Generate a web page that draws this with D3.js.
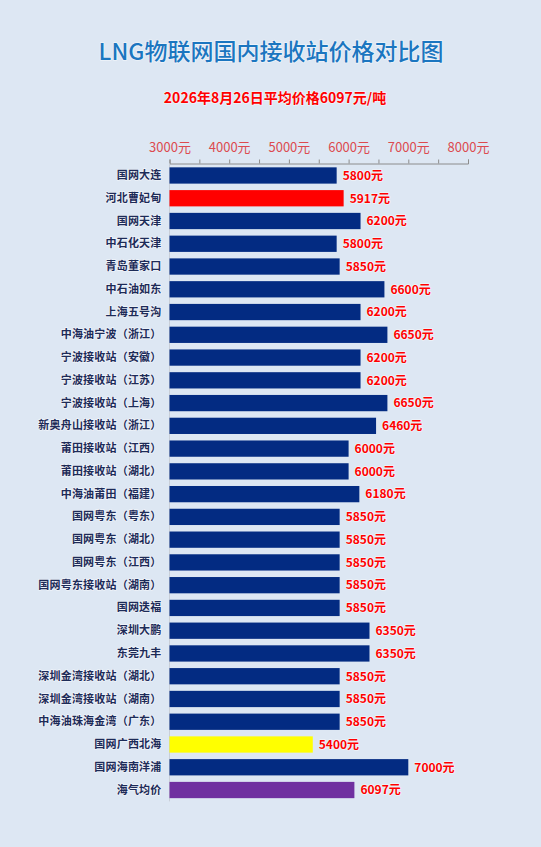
<!DOCTYPE html>
<html>
<head>
<meta charset="utf-8">
<script src="https://cdn.jsdelivr.net/npm/d3@7"></script>
<style>
    body { margin: 0; background: #dde7f3; }
    svg { display: block; }
    .halo { paint-order: stroke; stroke: #ffffff; stroke-opacity: 0.55; stroke-width: 1.6px; stroke-linejoin: round; }
</style>
</head>
<body>
<svg id="chart" width="541" height="847"></svg>
<script>
// stations, top to bottom
let stations = ["国网大连", "河北曹妃甸", "国网天津", "中石化天津", "青岛董家口", "中石油如东", "上海五号沟",
    "中海油宁波（浙江）", "宁波接收站（安徽）", "宁波接收站（江苏）", "宁波接收站（上海）", "新奥舟山接收站（浙江）",
    "莆田接收站（江西）", "莆田接收站（湖北）", "中海油莆田（福建）", "国网粤东（粤东）", "国网粤东（湖北）",
    "国网粤东（江西）", "国网粤东接收站（湖南）", "国网迭福", "深圳大鹏", "东莞九丰", "深圳金湾接收站（湖北）",
    "深圳金湾接收站（湖南）", "中海油珠海金湾（广东）", "国网广西北海", "国网海南洋浦", "海气均价"];
let prices = [5800, 5917, 6200, 5800, 5850, 6600, 6200, 6650, 6200, 6200, 6650, 6460, 6000, 6000, 6180,
    5850, 5850, 5850, 5850, 5850, 6350, 6350, 5850, 5850, 5850, 5400, 7000, 6097];
let barColors = ["#032b82", "#ff0000", "#032b82", "#032b82", "#032b82", "#032b82", "#032b82", "#032b82",
    "#032b82", "#032b82", "#032b82", "#032b82", "#032b82", "#032b82", "#032b82", "#032b82", "#032b82",
    "#032b82", "#032b82", "#032b82", "#032b82", "#032b82", "#032b82", "#032b82", "#032b82", "#ffff00",
    "#032b82", "#7030a0"];
let axisTicks = [3000, 4000, 5000, 6000, 7000, 8000];
let minorTicks = [3000, 3500, 4000, 4500, 5000, 5500, 6000, 6500, 7000, 7500, 8000];
let title = "LNG物联网国内接收站价格对比图";
let subtitle = "2026年8月26日平均价格6097元/吨";

let svg = d3.select("#chart");
let font = "'Noto Sans CJK SC', 'Noto Sans', sans-serif";

svg.append("rect").attr("width", 541).attr("height", 847).attr("fill", "#dde7f3");

// titles
svg.append("text")
    .attr("class", "halo")
    .attr("x", 271).attr("y", 60)
    .attr("text-anchor", "middle")
    .style("font-family", font).style("font-size", "23px").style("font-weight", "500")
    .attr("fill", "#1b76c0")
    .text(title);

svg.append("text")
    .attr("class", "halo")
    .attr("x", 275).attr("y", 103)
    .attr("text-anchor", "middle")
    .style("font-family", font).style("font-size", "14px").style("font-weight", "bold")
    .attr("fill", "#ff0000")
    .text(subtitle);

// scales
let xScale = d3.scaleLinear().domain([3000, 8000]).range([169.5, 468]);
let yScale = d3.scaleBand().domain(stations).range([164.1, 801.4])
    .paddingInner(0.285).paddingOuter(0.1425);

// top axis: minor ticks, no labels
let tickAxis = d3.axisTop(xScale).tickValues(minorTicks).tickSize(4).tickFormat("");
let gTicks = svg.append("g").attr("transform", "translate(0,163.5)").call(tickAxis);
gTicks.selectAll("path, line").attr("stroke", "#8c8c8c");

// top axis labels
let labelAxis = d3.axisTop(xScale).tickValues(axisTicks).tickSize(0).tickPadding(12)
    .tickFormat(d => d + "元");
let gLabels = svg.append("g").attr("transform", "translate(0,163.5)").call(labelAxis);
gLabels.select(".domain").remove();
gLabels.selectAll("text")
    .style("font-family", font).style("font-size", "13px")
    .attr("fill", "#dc4a4f");

// category axis
let yAxis = d3.axisLeft(yScale).tickSize(0).tickPadding(8);
let gY = svg.append("g").attr("transform", "translate(169.5,0)").call(yAxis);
gY.select(".domain").attr("stroke", "#c9cfd8").attr("d", "M0,163.5V801.4");
gY.selectAll("text")
    .attr("class", "halo")
    .style("font-family", font).style("font-size", "11px").style("font-weight", "bold")
    .style("letter-spacing", "0.2px")
    .attr("fill", "#1d2b58");

// bars
svg.append("g").selectAll("rect")
    .data(stations)
    .enter().append("rect")
    .attr("x", xScale(3000))
    .attr("y", d => yScale(d))
    .attr("width", (d, i) => xScale(prices[i]) - xScale(3000))
    .attr("height", yScale.bandwidth())
    .attr("fill", (d, i) => barColors[i]);

// value labels
svg.append("g").selectAll("text")
    .data(stations)
    .enter().append("text")
    .attr("class", "halo")
    .attr("x", (d, i) => xScale(prices[i]) + 6)
    .attr("y", d => yScale(d) + yScale.bandwidth() / 2)
    .attr("dy", "0.36em")
    .style("font-family", font).style("font-size", "12px").style("font-weight", "bold")
    .attr("fill", "#ff0000")
    .text((d, i) => prices[i] + "元");
</script>
</body>
</html>
